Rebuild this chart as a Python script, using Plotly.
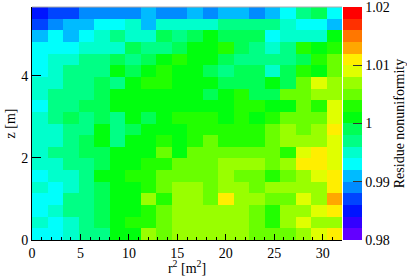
import colorsys
import numpy as np
import plotly.graph_objects as go

# Binning of the histogram (r^2 in m^2, z in m)
r2_min, r2_max, n_r2 = 0.0, 32.0, 20
z_min, z_max, n_z = 0.0, 5.68, 20

# Colour scale limits and colorbar ticks
zmin, zmax, n_contours = 0.98, 1.02, 20
cbar_tickvals = [0.98, 0.99, 1.0, 1.01, 1.01999]
cbar_ticktext = ["0.98", "0.99", "1", "1.01", "1.02"]
x_ticks_major = 5
y_ticks_major = 2

# Residue nonuniformity, rows listed from the TOP (highest z) to the bottom (z = 0)
row_top_00 = [0.985,0.987,0.987,0.989,0.989,0.989,0.989,0.991,0.989,0.989,0.991,0.989,0.991,0.991,0.989,0.991,0.993,0.997,0.999,0.993]
row_top_01 = [0.987,0.989,0.991,0.991,0.993,0.993,0.995,0.991,0.995,0.995,0.995,0.995,0.997,0.997,0.997,0.997,0.995,0.993,0.993,0.991]
row_top_02 = [0.991,0.993,0.991,0.993,0.995,0.997,0.995,0.995,0.999,0.997,0.999,1.001,0.999,0.999,0.999,0.993,0.995,0.995,0.995,1.001]
row_top_03 = [0.993,0.993,0.993,0.995,0.995,0.995,0.999,0.997,0.997,0.999,1.001,1.001,1.003,0.999,0.997,0.995,0.997,1.003,1.001,1.003]
row_top_04 = [0.993,0.995,0.995,0.997,0.997,0.999,0.997,0.999,1.001,1.003,1.001,1.001,0.999,0.997,0.997,0.997,0.997,0.999,1.003,1.005]
row_top_05 = [0.993,0.995,0.997,0.997,0.997,1.001,0.999,1.001,1.003,1.001,1.001,0.999,0.997,0.999,0.999,0.995,0.999,1.003,1.001,1.005]
row_top_06 = [0.995,0.995,0.997,0.997,0.999,0.997,1.001,1.003,1.003,1.001,1.001,1.001,0.999,0.999,0.999,1.001,0.999,1.005,1.009,1.007]
row_top_07 = [0.995,0.997,0.997,0.997,0.999,1.001,1.001,1.001,1.001,1.001,1.001,0.999,1.001,1.003,0.999,0.999,1.005,1.005,1.007,1.007]
row_top_08 = [0.993,0.997,0.997,0.999,0.999,1.001,1.001,1.001,1.001,1.001,1.001,1.001,1.001,1.003,1.003,1.001,1.001,1.005,1.003,1.009]
row_top_09 = [0.995,0.997,0.999,0.997,0.999,0.997,1.001,0.999,1.001,1.003,1.003,1.003,1.001,1.003,1.001,1.003,1.005,1.005,1.005,1.009]
row_top_10 = [0.995,0.995,0.997,0.997,1.001,0.997,0.999,1.001,1.001,1.001,1.003,1.003,1.003,1.003,1.003,1.005,1.007,1.005,1.007,1.011]
row_top_11 = [0.995,0.995,0.997,0.999,1.001,0.997,1.001,1.001,1.003,1.001,1.003,1.005,1.003,1.003,1.003,1.005,1.007,1.007,1.007,1.009]
row_top_12 = [0.995,0.997,0.997,0.999,0.999,1.001,1.001,1.001,1.005,1.001,1.005,1.005,1.005,1.005,1.005,1.005,1.003,1.009,1.011,1.009]
row_top_13 = [0.995,0.995,0.997,0.997,0.999,1.001,1.001,1.003,1.003,1.005,1.005,1.005,1.007,1.007,1.007,1.005,1.007,1.011,1.011,1.009]
row_top_14 = [0.993,0.995,0.995,0.997,1.001,1.001,1.003,1.003,1.005,1.005,1.005,1.005,1.007,1.005,1.005,1.003,1.005,1.007,1.009,1.011]
row_top_15 = [0.995,0.993,0.995,0.997,0.999,1.001,1.001,1.003,1.005,1.007,1.007,1.005,1.007,1.007,1.005,1.007,1.007,1.007,1.007,1.011]
row_top_16 = [0.993,0.993,0.997,0.997,0.999,1.001,1.001,1.007,1.003,1.007,1.007,1.005,1.011,1.007,1.007,1.005,1.005,1.009,1.007,1.013]
row_top_17 = [0.993,0.995,0.997,0.997,0.999,1.001,1.001,1.003,1.005,1.007,1.007,1.007,1.007,1.007,1.005,1.003,1.007,1.007,1.009,1.011]
row_top_18 = [0.995,0.993,0.995,0.997,0.999,1.001,1.003,1.003,1.005,1.007,1.007,1.007,1.007,1.007,1.005,1.003,1.007,1.009,1.007,1.007]
row_top_19 = [0.993,0.993,0.995,0.997,0.997,1.001,1.001,1.007,1.005,1.007,1.007,1.007,1.007,1.007,1.005,1.005,1.005,1.007,1.009,1.011]

rows_top_down = [row_top_00, row_top_01, row_top_02, row_top_03, row_top_04,
                 row_top_05, row_top_06, row_top_07, row_top_08, row_top_09,
                 row_top_10, row_top_11, row_top_12, row_top_13, row_top_14,
                 row_top_15, row_top_16, row_top_17, row_top_18, row_top_19]
z_values = rows_top_down[::-1]  # bottom row first for plotly

x_edges = np.linspace(r2_min, r2_max, n_r2 + 1)
y_edges = np.linspace(z_min, z_max, n_z + 1)

# ROOT "pretty" palette (50 colours, violet -> red) sampled with 20 contours
def root_color(icol):
    idx = int((icol + 0.99) * 50 / n_contours)
    hue = 280.0 - (idx + 1) * 5.6
    r, g, b = colorsys.hls_to_rgb(hue / 360.0, 0.5, 1.0)
    return "rgb(%d,%d,%d)" % (round(r * 255), round(g * 255), round(b * 255))

colorscale = []
for i in range(n_contours):
    c = root_color(i)
    colorscale.append([i / n_contours, c])
    colorscale.append([(i + 1) / n_contours, c])

serif = "Liberation Serif"
fs = 14

fig = go.Figure(go.Heatmap(
    x=x_edges, y=y_edges, z=z_values,
    zmin=zmin, zmax=zmax, colorscale=colorscale,
    colorbar=dict(
        x=1.003, xanchor="left", y=0.5, yanchor="middle",
        len=1, lenmode="fraction", thickness=19, thicknessmode="pixels",
        xpad=0, ypad=0, outlinewidth=0,
        tickmode="array", tickvals=cbar_tickvals, ticktext=cbar_ticktext,
        ticks="inside", ticklen=9, tickcolor="#333",
        ticklabeloverflow="allow",
        tickfont=dict(family=serif, size=fs, color="black"),
        title=dict(text="Residue nonuniformity", side="right",
                   font=dict(family=serif, size=fs, color="black")),
    ),
    hoverinfo="skip",
))

fig.update_layout(
    template="none",
    width=407, height=276,
    margin=dict(l=32, r=65, t=7, b=36, autoexpand=False),
    paper_bgcolor="white", plot_bgcolor="white",
    font=dict(family=serif, size=fs, color="black"),
    xaxis=dict(range=[r2_min, r2_max], showgrid=False, zeroline=False,
               automargin=False,
               showline=True, linecolor="black", linewidth=1,
               ticks="inside", ticklen=6, tickcolor="black",
               tick0=0, dtick=x_ticks_major,
               minor=dict(ticks="inside", ticklen=3, dtick=1, tickcolor="black", showgrid=False),
               tickfont=dict(family=serif, size=fs),
               title=dict(text="r<sup>2</sup> [m<sup>2</sup>]", standoff=5,
                          font=dict(family=serif, size=fs))),
    yaxis=dict(range=[z_min, z_max], showgrid=False, zeroline=False,
               automargin=False,
               showline=True, linecolor="black", linewidth=1,
               ticks="inside", ticklen=9, tickcolor="black",
               tick0=0, dtick=y_ticks_major,
               tickfont=dict(family=serif, size=fs),
               title=dict(text="z [m]", standoff=2,
                          font=dict(family=serif, size=fs))),
    shapes=[dict(type="line", xref="paper", yref="paper", x0=0, x1=1, y0=1, y1=1,
                 line=dict(color="#aaaaaa", width=1))],
)

fig.write_html("out.html", config={"displayModeBar": False},
               post_script="document.body.style.margin='0';document.body.style.padding='0';")
